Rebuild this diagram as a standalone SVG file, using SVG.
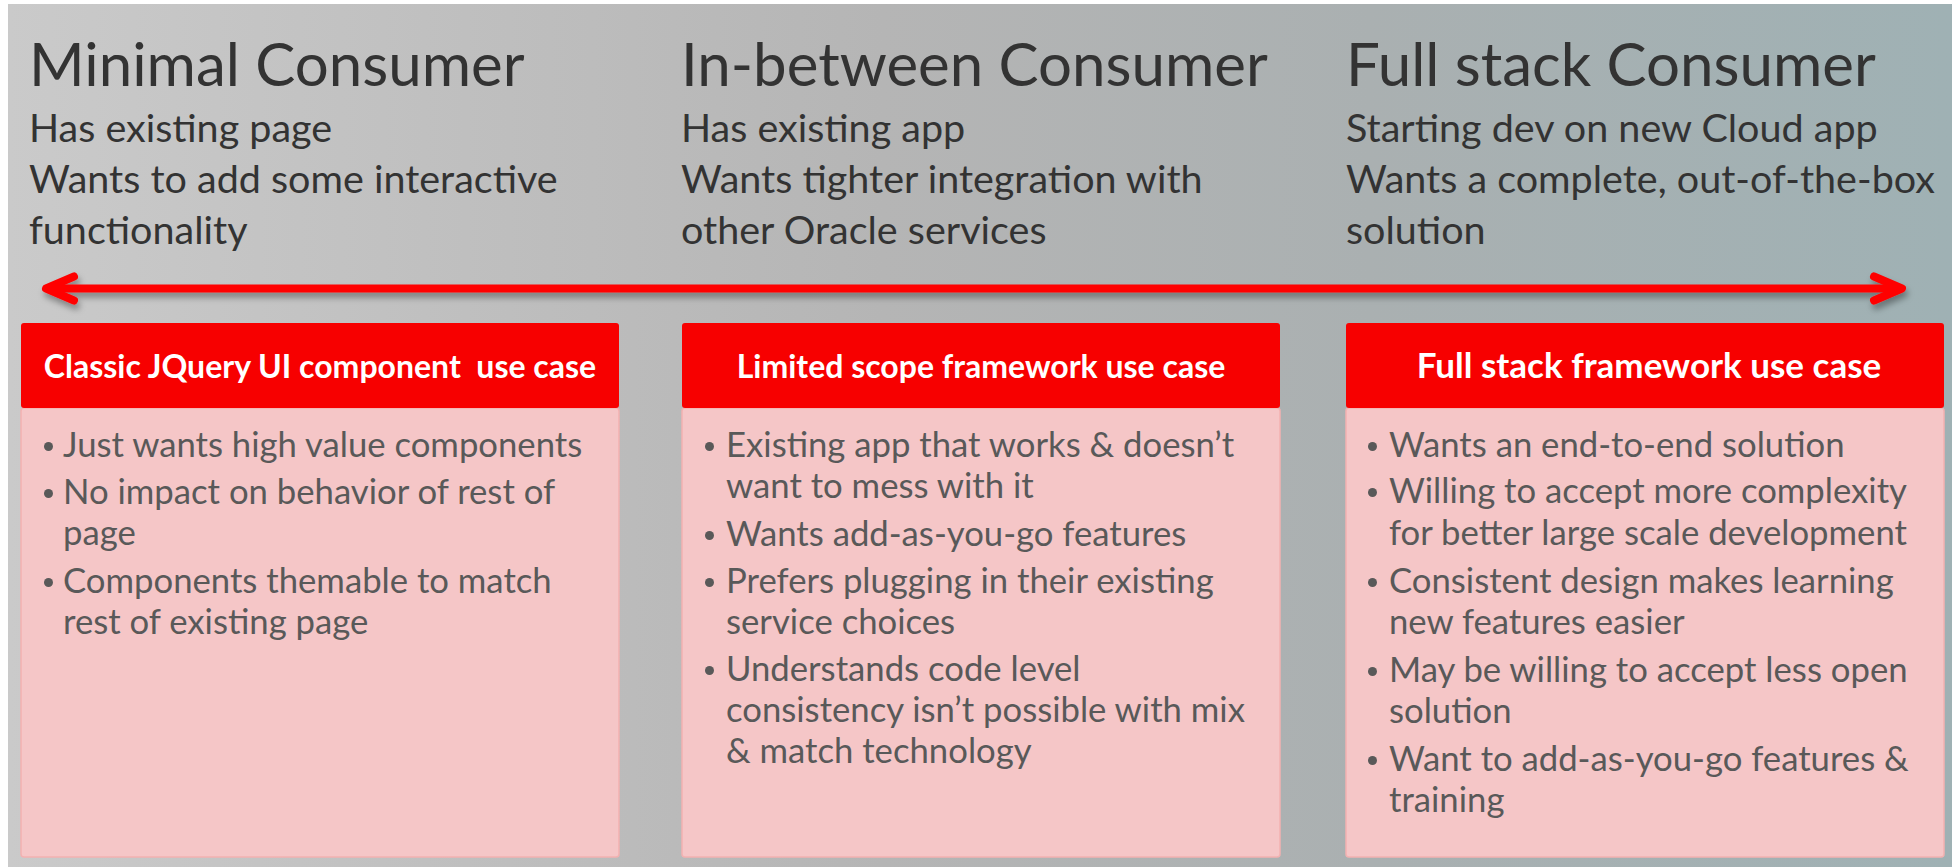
<svg xmlns="http://www.w3.org/2000/svg" width="1952" height="867" viewBox="0 0 1952 867">
  <style>
    .title { font-family: Lato, "Liberation Sans", sans-serif; font-size: 60px; fill: #333333; }
    .sub { font-family: Lato, "Liberation Sans", sans-serif; font-size: 39.5px; fill: #333333; }
    .head { fill: #f70000; }
    .body { fill: #f5c6c7; stroke: #f3b1b1; stroke-width: 1.5; }
    .htext { font-family: Lato, "Liberation Sans", sans-serif; font-size: 32px; font-weight: bold; fill: #ffffff; text-anchor: middle; white-space: pre; }
    .btext { font-family: Lato, "Liberation Sans", sans-serif; font-size: 34.7px; fill: #595959; }
    .dot { fill: #595959; }
  </style>
  <defs>
    <linearGradient id="bg" x1="0" y1="0" x2="1" y2="0">
      <stop offset="0" stop-color="#cacaca"/>
      <stop offset="0.45" stop-color="#b5b5b5"/>
      <stop offset="0.7" stop-color="#aab0b1"/>
      <stop offset="1" stop-color="#9fb1b4"/>
    </linearGradient>
    <filter id="shadow" filterUnits="userSpaceOnUse" x="0" y="240" width="1952" height="100">
      <feDropShadow dx="2" dy="5" stdDeviation="3" flood-color="#000000" flood-opacity="0.35"/>
    </filter>
    <marker id="chev" viewBox="-40 -20 50 40" refX="0" refY="0" markerWidth="50" markerHeight="40" markerUnits="userSpaceOnUse" orient="auto-start-reverse">
      <path d="M -28 -12 L 0 0 L -28 12" fill="none" stroke="#ff0000" stroke-width="8" stroke-linecap="round" stroke-linejoin="round"/>
    </marker>
  </defs>

  <rect x="0" y="0" width="1952" height="867" fill="#ffffff"/>
  <rect x="8" y="4" width="1944" height="863" fill="url(#bg)"/>

  <g id="col-minimal">
    <text class="title" x="29" y="86">Minimal Consumer</text>
    <text class="sub" x="29" y="142">Has existing page</text>
    <text class="sub" x="29" y="193">Wants to add some interactive</text>
    <text class="sub" x="29" y="244">functionality</text>
  </g>
  <g id="col-inbetween">
    <text class="title" x="681" y="86">In-between Consumer</text>
    <text class="sub" x="681" y="142">Has existing app</text>
    <text class="sub" x="681" y="193">Wants tighter integration with</text>
    <text class="sub" x="681" y="244">other Oracle services</text>
  </g>
  <g id="col-fullstack">
    <text class="title" x="1346" y="86">Full stack Consumer</text>
    <text class="sub" x="1346" y="142">Starting dev on new Cloud app</text>
    <text class="sub" x="1346" y="193">Wants a complete, out-of-the-box</text>
    <text class="sub" x="1346" y="244">solution</text>
  </g>

  <g id="connectors">
    <path d="M 46 288.5 L 1902 288.5" fill="none" stroke="#ff0000" stroke-width="8" marker-start="url(#chev)" marker-end="url(#chev)" filter="url(#shadow)"/>
  </g>

  <g id="box-classic">
    <rect class="body" x="21" y="408" width="598" height="449" rx="3"/>
    <rect class="head" x="21" y="323" width="598" height="85" rx="3"/>
    <text class="htext" x="320" y="378" xml:space="preserve">Classic JQuery UI component  use case</text>
    <circle class="dot" cx="48.5" cy="446.5" r="4.5"/>
    <text class="btext" x="63" y="457">Just wants high value components</text>
    <circle class="dot" cx="48.5" cy="493.5" r="4.5"/>
    <text class="btext" x="63" y="504">No impact on behavior of rest of</text>
    <text class="btext" x="63" y="545">page</text>
    <circle class="dot" cx="48.5" cy="582.5" r="4.5"/>
    <text class="btext" x="63" y="593">Components themable to match</text>
    <text class="btext" x="63" y="634">rest of existing page</text>
  </g>

  <g id="box-limited">
    <rect class="body" x="682" y="408" width="598" height="449" rx="3"/>
    <rect class="head" x="682" y="323" width="598" height="85" rx="3"/>
    <text class="htext" x="981" y="378">Limited scope framework use case</text>
    <circle class="dot" cx="709.5" cy="446.5" r="4.5"/>
    <text class="btext" x="726" y="457">Existing app that works &amp; doesn’t</text>
    <text class="btext" x="726" y="498">want to mess with it</text>
    <circle class="dot" cx="709.5" cy="535.5" r="4.5"/>
    <text class="btext" x="726" y="546">Wants add-as-you-go features</text>
    <circle class="dot" cx="709.5" cy="582.5" r="4.5"/>
    <text class="btext" x="726" y="593">Prefers plugging in their existing</text>
    <text class="btext" x="726" y="634">service choices</text>
    <circle class="dot" cx="709.5" cy="670.5" r="4.5"/>
    <text class="btext" x="726" y="681">Understands code level</text>
    <text class="btext" x="726" y="722">consistency isn’t possible with mix</text>
    <text class="btext" x="726" y="763">&amp; match technology</text>
  </g>

  <g id="box-fullstack">
    <rect class="body" x="1346" y="408" width="598" height="449" rx="3"/>
    <rect class="head" x="1346" y="323" width="598" height="85" rx="3"/>
    <text class="htext" x="1649" y="378" style="font-size:35px">Full stack framework use case</text>
    <circle class="dot" cx="1372.5" cy="446.5" r="4.5"/>
    <text class="btext" x="1389" y="457">Wants an end-to-end solution</text>
    <circle class="dot" cx="1372.5" cy="492.5" r="4.5"/>
    <text class="btext" x="1389" y="503">Willing to accept more complexity</text>
    <text class="btext" x="1389" y="545">for better large scale development</text>
    <circle class="dot" cx="1372.5" cy="582.5" r="4.5"/>
    <text class="btext" x="1389" y="593">Consistent design makes learning</text>
    <text class="btext" x="1389" y="634">new features easier</text>
    <circle class="dot" cx="1372.5" cy="671.5" r="4.5"/>
    <text class="btext" x="1389" y="682">May be willing to accept less open</text>
    <text class="btext" x="1389" y="723">solution</text>
    <circle class="dot" cx="1372.5" cy="760.5" r="4.5"/>
    <text class="btext" x="1389" y="771">Want to add-as-you-go features &amp;</text>
    <text class="btext" x="1389" y="812">training</text>
  </g>
</svg>
